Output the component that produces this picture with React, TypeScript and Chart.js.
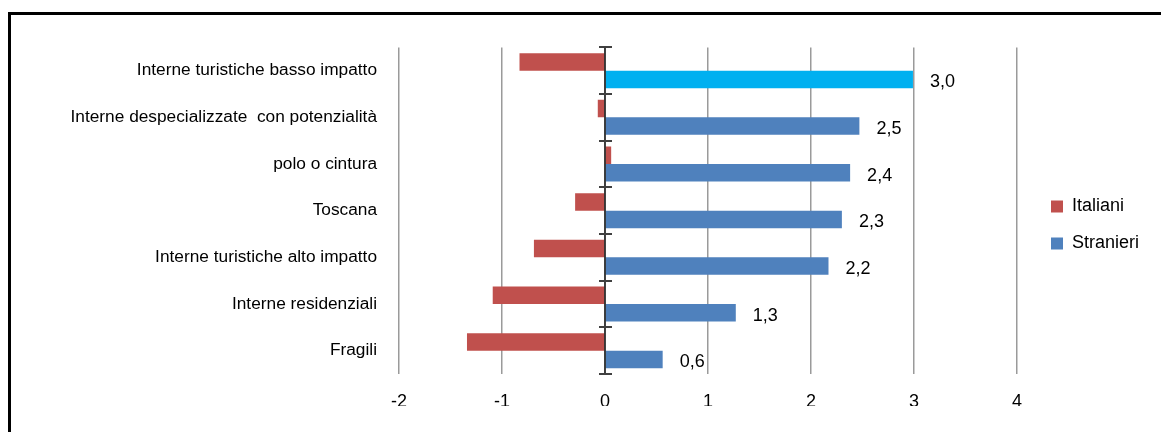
import React, { useEffect, useRef } from 'react';
import { Chart, registerables } from 'chart.js';

Chart.register(...registerables);

const categories = [
  'Interne turistiche basso impatto',
  'Interne despecializzate  con potenzialità',
  'polo o cintura',
  'Toscana',
  'Interne turistiche alto impatto',
  'Interne residenziali',
  'Fragili',
];
const italiani = [-0.83, -0.07, 0.06, -0.29, -0.69, -1.09, -1.34];
const stranieri = [2.99, 2.47, 2.38, 2.3, 2.17, 1.27, 0.56];
const seriesNames = ['Italiani', 'Stranieri'];
const xMin = -2;
const xMax = 4;
const xStep = 1;

const RED = '#C0504D';
const BLUE = '#4F81BD';
const CYAN = '#00B0F0';
const FONT = "'Liberation Sans', Arial, sans-serif";

const overlay = {
  id: 'overlay',
  afterDatasetsDraw(chart: any) {
    const { ctx, chartArea, scales } = chart;
    const x0 = scales.x.getPixelForValue(0);
    ctx.save();
    ctx.strokeStyle = '#000';
    ctx.lineWidth = 1.5;
    ctx.beginPath();
    ctx.moveTo(x0, chartArea.top);
    ctx.lineTo(x0, chartArea.bottom);
    ctx.stroke();
    const n = categories.length;
    const step = (chartArea.bottom - chartArea.top) / n;
    ctx.strokeStyle = '#404040';
    ctx.lineWidth = 2;
    for (let k = 0; k <= n; k++) {
      const y = Math.round(chartArea.top + k * step);
      ctx.beginPath();
      ctx.moveTo(x0 - 6, y);
      ctx.lineTo(x0 + 7, y);
      ctx.stroke();
    }
    const meta = chart.getDatasetMeta(1);
    ctx.font = `18px ${FONT}`;
    ctx.fillStyle = '#000';
    ctx.textAlign = 'left';
    ctx.textBaseline = 'middle';
    meta.data.forEach((bar: any, i: number) => {
      ctx.fillText(stranieri[i].toFixed(1).replace('.', ','), bar.x + 17, bar.y + 3);
    });
    ctx.restore();
  },
};

export default function App() {
  const ref = useRef<HTMLCanvasElement | null>(null);

  useEffect(() => {
    if (!ref.current) return;
    const legendColors = [RED, BLUE];
    const chart = new Chart(ref.current, {
      type: 'bar',
      data: {
        labels: categories,
        datasets: [
          {
            label: seriesNames[0],
            data: italiani,
            backgroundColor: RED,
            borderWidth: 0,
            categoryPercentage: 0.75,
            barPercentage: 1,
          },
          {
            label: seriesNames[1],
            data: stranieri,
            backgroundColor: stranieri.map((_, i) => (i === 0 ? CYAN : BLUE)),
            borderWidth: 0,
            categoryPercentage: 0.75,
            barPercentage: 1,
          },
        ],
      },
      options: {
        indexAxis: 'y',
        responsive: false,
        animation: false,
        layout: { autoPadding: false, padding: { top: 29, bottom: 26, left: 0, right: 12 } },
        scales: {
          x: {
            type: 'linear',
            min: xMin,
            max: xMax,
            ticks: {
              stepSize: xStep,
              padding: 17,
              color: '#000',
              font: { family: FONT, size: 18 },
              callback: (v: any) => String(v),
            },
            grid: {
              drawTicks: false,
              lineWidth: 1.5,
              color: (c: any) => (c.tick && c.tick.value === 0 ? 'rgba(0,0,0,0)' : '#9a9a9a'),
            },
            border: { display: false },
            afterFit: (s: any) => {
              s.height = 32;
            },
          },
          y: {
            type: 'category',
            ticks: {
              padding: 22,
              color: '#000',
              font: { family: FONT, size: 17.3 },
            },
            grid: { display: false, drawTicks: false },
            border: { display: false },
            afterFit: (s: any) => {
              s.width = 388;
            },
          },
          y2: {
            type: 'category',
            position: 'right',
            display: true,
            ticks: { display: false },
            grid: { display: false, drawTicks: false },
            border: { display: false },
            afterFit: (s: any) => {
              s.width = 15;
            },
          },
        },
        plugins: {
          legend: {
            position: 'right',
            labels: {
              boxWidth: 12,
              boxHeight: 12,
              padding: 19,
              color: '#000',
              font: { family: FONT, size: 18 },
              generateLabels: (ch: any) =>
                ch.data.datasets.map((d: any, i: number) => ({
                  text: d.label,
                  fillStyle: legendColors[i],
                  strokeStyle: legendColors[i],
                  lineWidth: 0,
                  hidden: false,
                  datasetIndex: i,
                })),
            },
          },
          tooltip: { enabled: false },
        },
      },
      plugins: [overlay],
    } as any);
    return () => chart.destroy();
  }, []);

  return (
    <div
      style={{
        position: 'fixed',
        left: 0,
        top: 0,
        width: 1161,
        height: 432,
        overflow: 'hidden',
        background: '#fff',
      }}
    >
      <div
        style={{
          position: 'absolute',
          left: 8,
          top: 12,
          width: 1160,
          height: 430,
          border: '3px solid #000',
        }}
      >
        <canvas
          ref={ref}
          width={1150}
          height={417}
          style={{ position: 'absolute', left: 0, top: 0, display: 'block' }}
        />
      </div>
    </div>
  );
}
